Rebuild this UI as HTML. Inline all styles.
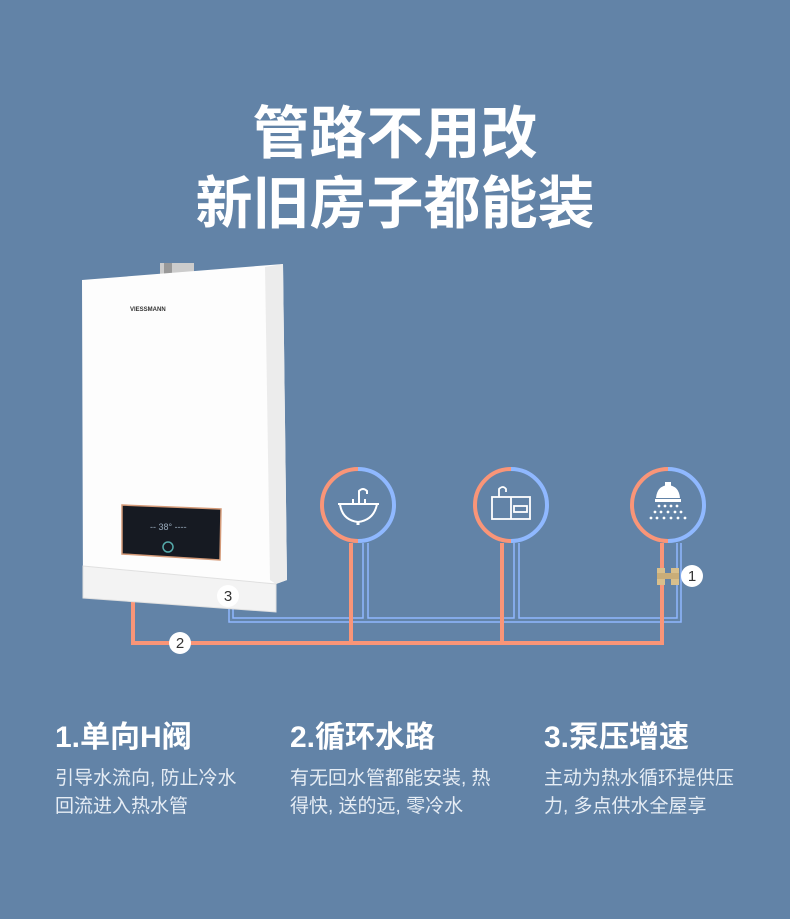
<!DOCTYPE html>
<html><head><meta charset="utf-8"><style>
html,body{margin:0;padding:0}
body{width:790px;height:919px;background:#6283a7;position:relative;overflow:hidden;font-family:"Liberation Sans","Noto Sans CJK SC",sans-serif;color:#fff}
.t{position:absolute;left:0;width:790px;text-align:center;font-size:57px;font-weight:bold;line-height:1;letter-spacing:0}
.h{position:absolute;top:723px;font-size:30px;font-weight:bold;line-height:1}
.b{position:absolute;top:765px;font-size:19px;line-height:28px;color:#e6edf5}
</style></head><body>
<div class="t" style="top:106px">管路不用改</div>
<div class="t" style="top:176px">新旧房子都能装</div>
<svg width="790" height="919" style="position:absolute;left:0;top:0">
<g fill="none" stroke="#8fb8ff" stroke-width="1.5">
<path d="M229 600 V622 H681 V543"/>
<path d="M233 600 V618 H363 V543 M368 543 V618 H514 V543 M519 543 V618 H677 V543"/>
</g>
<g fill="none" stroke="#f99578" stroke-width="4">
<path d="M133 598 V643 H662 V543"/>
<path d="M351 543 V643 M502 543 V643"/>
</g>
<g fill="none" stroke-width="4">
<path d="M358 469 A36 36 0 0 0 358 541" stroke="#f99578"/>
<path d="M358 469 A36 36 0 0 1 358 541" stroke="#8fb8ff"/>
<path d="M511 469 A36 36 0 0 0 511 541" stroke="#f99578"/>
<path d="M511 469 A36 36 0 0 1 511 541" stroke="#8fb8ff"/>
<path d="M668 469 A36 36 0 0 0 668 541" stroke="#f99578"/>
<path d="M668 469 A36 36 0 0 1 668 541" stroke="#8fb8ff"/>
</g>
<g fill="none" stroke="#fff" stroke-width="2">
<path d="M338 504 H379 M340 504 Q342 520 358 522 Q374 520 377 504"/>
<path d="M358 522 V525" stroke-width="3"/>
<path d="M359 503 V491 Q363 487 367 491 V494"/>
<path d="M353 503 V499 M365 503 V499"/>
</g>
<g fill="none" stroke="#fff" stroke-width="1.8">
<rect x="492" y="497" width="38" height="22"/>
<path d="M511 497 V519"/>
<rect x="514" y="506" width="13" height="6"/>
<path d="M499 497 V489 Q503 485 506 489 V492"/>
</g>
<g fill="#fff">
<path d="M656 498 Q657 486 668 485 Q679 486 680 498 Z"/>
<rect x="665" y="482" width="6" height="4"/>
<rect x="655" y="499" width="26" height="3"/>
<circle cx="659" cy="506" r="1.4"/><circle cx="665" cy="506" r="1.4"/><circle cx="671" cy="506" r="1.4"/><circle cx="677" cy="506" r="1.4"/>
<circle cx="655" cy="512" r="1.4"/><circle cx="661" cy="512" r="1.4"/><circle cx="668" cy="512" r="1.4"/><circle cx="675" cy="512" r="1.4"/><circle cx="681" cy="512" r="1.4"/>
<circle cx="651" cy="518" r="1.4"/><circle cx="657" cy="518" r="1.4"/><circle cx="664" cy="518" r="1.4"/><circle cx="671" cy="518" r="1.4"/><circle cx="678" cy="518" r="1.4"/><circle cx="685" cy="518" r="1.4"/>
</g>
<g fill="#d8bf8c">
<rect x="657" y="568" width="8" height="17"/>
<rect x="671" y="568" width="8" height="17"/>
<rect x="657" y="573" width="22" height="6" fill="#c9ad78"/>
</g>
<rect x="160" y="263" width="34" height="12" fill="#ccc"/>
<rect x="164" y="263" width="8" height="12" fill="#999"/>
<polygon points="82,280 283,264 287,580 276,584 276,612 83,598" fill="#fdfdfd"/>
<polygon points="265,267 283,264 287,580 276,584 270,580" fill="#ececec"/>
<polygon points="83,566 276,584 276,612 83,598" fill="#f3f3f3" stroke="#e0e0e0" stroke-width="1"/>
<text x="130" y="311" font-size="6" font-weight="bold" fill="#333" font-family="Liberation Sans">VIESSMANN</text>
<polygon points="122,505 221,509 220,560 122,554" fill="#161a22" stroke="#d49a78" stroke-width="1.5"/>
<circle cx="168" cy="547" r="5" fill="none" stroke="#5aa" stroke-width="1.5"/>
<text x="150" y="530" font-size="9" fill="#9ab" font-family="Liberation Sans">-- 38° ----</text>
<g font-family="Liberation Sans" font-size="15" fill="#333" text-anchor="middle">
<circle cx="228" cy="596" r="11" fill="#fff"/><text x="228" y="601">3</text>
<circle cx="180" cy="643" r="11" fill="#fff"/><text x="180" y="648">2</text>
<circle cx="692" cy="576" r="11" fill="#fff"/><text x="692" y="581">1</text>
</g>
</svg>
<div class="h" style="left:55px">1.单向H阀</div>
<div class="h" style="left:290px">2.循环水路</div>
<div class="h" style="left:544px">3.泵压增速</div>
<div class="b" style="left:55px">引导水流向, 防止冷水<br>回流进入热水管</div>
<div class="b" style="left:290px">有无回水管都能安装, 热<br>得快, 送的远, 零冷水</div>
<div class="b" style="left:544px">主动为热水循环提供压<br>力, 多点供水全屋享</div>
</body></html>
